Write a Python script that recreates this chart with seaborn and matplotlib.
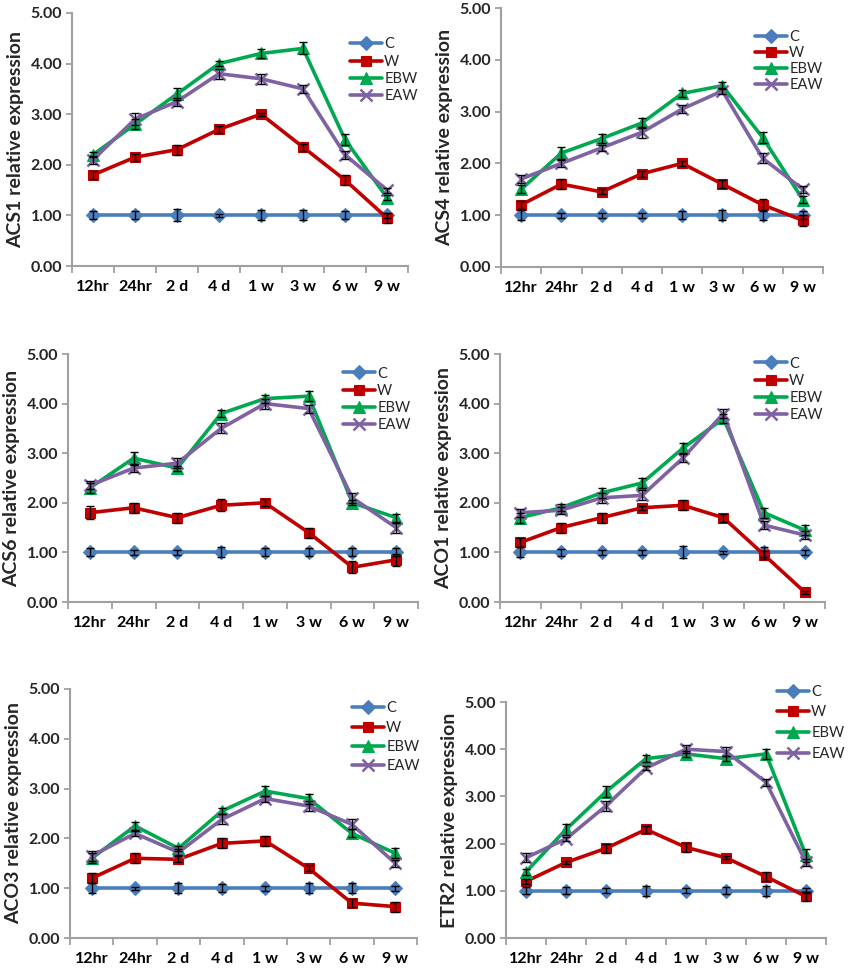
import matplotlib
matplotlib.use("Agg")
import matplotlib.pyplot as plt
import seaborn as sns
import numpy as np
import pandas as pd
from matplotlib.ticker import FormatStrFormatter, FixedLocator

sns.set_theme(style="white")
plt.rcParams['font.family'] = ['Lato', 'DejaVu Sans']

categories = ["12hr", "24hr", "2 d", "4 d", "1 w", "3 w", "6 w", "9 w"]
series_names = ["C", "W", "EBW", "EAW"]
genes = ["ACS1", "ACS4", "ACS6", "ACO1", "ACO3", "ETR2"]

# ---- values (mean) ----
ACS1_C = [1.0, 1.0, 1.0, 1.0, 1.0, 1.0, 1.0, 1.0]
ACS1_W = [1.8, 2.15, 2.3, 2.7, 3.0, 2.35, 1.7, 0.95]
ACS1_EBW = [2.2, 2.8, 3.4, 4.0, 4.2, 4.3, 2.5, 1.35]
ACS1_EAW = [2.1, 2.9, 3.25, 3.8, 3.7, 3.5, 2.2, 1.5]

ACS4_C = [1.0, 1.0, 1.0, 1.0, 1.0, 1.0, 1.0, 1.0]
ACS4_W = [1.2, 1.6, 1.45, 1.8, 2.0, 1.6, 1.2, 0.9]
ACS4_EBW = [1.5, 2.2, 2.48, 2.78, 3.35, 3.5, 2.5, 1.3]
ACS4_EAW = [1.7, 2.0, 2.3, 2.6, 3.05, 3.4, 2.1, 1.5]

ACS6_C = [1.0, 1.0, 1.0, 1.0, 1.0, 1.0, 1.0, 1.0]
ACS6_W = [1.8, 1.9, 1.7, 1.95, 2.0, 1.4, 0.7, 0.85]
ACS6_EBW = [2.3, 2.9, 2.7, 3.8, 4.1, 4.15, 2.0, 1.7]
ACS6_EAW = [2.35, 2.7, 2.8, 3.5, 4.0, 3.9, 2.1, 1.5]

ACO1_C = [1.0, 1.0, 1.0, 1.0, 1.0, 1.0, 1.0, 1.0]
ACO1_W = [1.2, 1.5, 1.7, 1.9, 1.95, 1.7, 0.95, 0.2]
ACO1_EBW = [1.7, 1.9, 2.2, 2.4, 3.1, 3.7, 1.8, 1.45]
ACO1_EAW = [1.8, 1.85, 2.1, 2.15, 2.9, 3.8, 1.55, 1.35]

ACO3_C = [1.0, 1.0, 1.0, 1.0, 1.0, 1.0, 1.0, 1.0]
ACO3_W = [1.2, 1.6, 1.58, 1.9, 1.95, 1.4, 0.7, 0.63]
ACO3_EBW = [1.6, 2.25, 1.8, 2.55, 2.95, 2.8, 2.1, 1.7]
ACO3_EAW = [1.65, 2.1, 1.72, 2.38, 2.8, 2.65, 2.28, 1.5]

ETR2_C = [1.0, 1.0, 1.0, 1.0, 1.0, 1.0, 1.0, 1.0]
ETR2_W = [1.2, 1.6, 1.9, 2.3, 1.92, 1.7, 1.3, 0.88]
ETR2_EBW = [1.4, 2.3, 3.1, 3.8, 3.9, 3.8, 3.9, 1.75]
ETR2_EAW = [1.7, 2.1, 2.8, 3.6, 4.0, 3.95, 3.3, 1.6]

# ---- error bars ----
ACS1_C_err = [0.08, 0.08, 0.12, 0.03, 0.1, 0.1, 0.08, 0.05]
ACS1_W_err = [0.08, 0.07, 0.1, 0.07, 0.03, 0.07, 0.1, 0.1]
ACS1_EBW_err = [0.05, 0.1, 0.12, 0.05, 0.08, 0.12, 0.1, 0.05]
ACS1_EAW_err = [0.08, 0.12, 0.08, 0.1, 0.1, 0.08, 0.08, 0.05]

ACS4_C_err = [0.1, 0.05, 0.05, 0.05, 0.08, 0.1, 0.1, 0.08]
ACS4_W_err = [0.08, 0.1, 0.05, 0.06, 0.05, 0.08, 0.12, 0.1]
ACS4_EBW_err = [0.08, 0.12, 0.08, 0.1, 0.07, 0.07, 0.1, 0.07]
ACS4_EAW_err = [0.08, 0.07, 0.06, 0.1, 0.07, 0.06, 0.1, 0.07]

ACS6_C_err = [0.08, 0.05, 0.05, 0.1, 0.08, 0.08, 0.08, 0.08]
ACS6_W_err = [0.13, 0.1, 0.1, 0.12, 0.07, 0.1, 0.12, 0.12]
ACS6_EBW_err = [0.1, 0.12, 0.05, 0.08, 0.08, 0.1, 0.05, 0.08]
ACS6_EAW_err = [0.08, 0.07, 0.1, 0.1, 0.1, 0.08, 0.1, 0.1]

ACO1_C_err = [0.1, 0.07, 0.05, 0.05, 0.12, 0.03, 0.1, 0.05]
ACO1_W_err = [0.1, 0.1, 0.1, 0.04, 0.1, 0.08, 0.08, 0.03]
ACO1_EBW_err = [0.1, 0.07, 0.1, 0.1, 0.1, 0.1, 0.1, 0.1]
ACO1_EAW_err = [0.08, 0.07, 0.1, 0.1, 0.08, 0.1, 0.08, 0.08]

ACO3_C_err = [0.1, 0.03, 0.1, 0.08, 0.05, 0.1, 0.1, 0.05]
ACO3_W_err = [0.1, 0.1, 0.06, 0.1, 0.1, 0.06, 0.08, 0.1]
ACO3_EBW_err = [0.1, 0.08, 0.05, 0.07, 0.1, 0.1, 0.08, 0.1]
ACO3_EAW_err = [0.1, 0.05, 0.06, 0.1, 0.06, 0.1, 0.1, 0.07]

ETR2_C_err = [0.07, 0.07, 0.05, 0.1, 0.05, 0.07, 0.1, 0.05]
ETR2_W_err = [0.05, 0.03, 0.1, 0.08, 0.1, 0.03, 0.1, 0.1]
ETR2_EBW_err = [0.07, 0.12, 0.12, 0.08, 0.06, 0.05, 0.1, 0.13]
ETR2_EAW_err = [0.1, 0.05, 0.1, 0.05, 0.08, 0.1, 0.07, 0.07]

values = {
    "ACS1": [ACS1_C, ACS1_W, ACS1_EBW, ACS1_EAW],
    "ACS4": [ACS4_C, ACS4_W, ACS4_EBW, ACS4_EAW],
    "ACS6": [ACS6_C, ACS6_W, ACS6_EBW, ACS6_EAW],
    "ACO1": [ACO1_C, ACO1_W, ACO1_EBW, ACO1_EAW],
    "ACO3": [ACO3_C, ACO3_W, ACO3_EBW, ACO3_EAW],
    "ETR2": [ETR2_C, ETR2_W, ETR2_EBW, ETR2_EAW],
}
errors = {
    "ACS1": [ACS1_C_err, ACS1_W_err, ACS1_EBW_err, ACS1_EAW_err],
    "ACS4": [ACS4_C_err, ACS4_W_err, ACS4_EBW_err, ACS4_EAW_err],
    "ACS6": [ACS6_C_err, ACS6_W_err, ACS6_EBW_err, ACS6_EAW_err],
    "ACO1": [ACO1_C_err, ACO1_W_err, ACO1_EBW_err, ACO1_EAW_err],
    "ACO3": [ACO3_C_err, ACO3_W_err, ACO3_EBW_err, ACO3_EAW_err],
    "ETR2": [ETR2_C_err, ETR2_W_err, ETR2_EBW_err, ETR2_EAW_err],
}

colors = {"C": "#4A7EBB", "W": "#C00000", "EBW": "#00A94F", "EAW": "#7E62A1"}
markers = {"C": "D", "W": "s", "EBW": "^", "EAW": "x"}
msizes = {"C": 7.5, "W": 7.0, "EBW": 8.5, "EAW": 8.0}

W, H = 850, 968
# pixel boxes: left, right, top, bottom
boxes = {
    "ACS1": (72, 408, 13, 266),
    "ACS4": (501, 823, 8, 267),
    "ACS6": (68, 418, 354, 602),
    "ACO1": (500, 825, 354, 602),
    "ACO3": (70, 417, 689, 938),
    "ETR2": (506, 826, 702, 938),
}
# legend: handle left x, first row centre y, row spacing
legpos = {
    "ACS1": (350, 44, 17),
    "ACS4": (755, 36, 16),
    "ACS6": (343, 373, 17),
    "ACO1": (755, 363, 17),
    "ACO3": (352, 709, 19),
    "ETR2": (777, 693, 20.5),
}

fig = plt.figure(figsize=(W / 100, H / 100), dpi=100)
fig.patch.set_facecolor("white")
spine_col = "#A0A0A0"
leg_fs = 10.5

for g in genes:
    l, r, t, b = boxes[g]
    ax = fig.add_axes([l / W, (H - b) / H, (r - l) / W, (b - t) / H])
    rows = []
    for s, vals in zip(series_names, values[g]):
        for c, v in zip(categories, vals):
            rows.append({"time": c, "value": v, "series": s})
    df = pd.DataFrame(rows)
    for s in series_names:
        sub = df[df["series"] == s]
        sns.lineplot(data=sub, x="time", y="value", ax=ax, color=colors[s],
                     marker=markers[s], markersize=msizes[s], linewidth=2.6,
                     markeredgecolor=colors[s], markeredgewidth=1.8 if s == "EAW" else 0.8,
                     label=s, clip_on=False, zorder=3, sort=False)
    for s, vals, errs in zip(series_names, values[g], errors[g]):
        ax.errorbar(np.arange(len(categories)), vals, yerr=errs, fmt="none",
                    ecolor="black", elinewidth=1.0, capsize=3, capthick=1.0,
                    zorder=4, clip_on=False)

    ax.set_xlim(-0.5, len(categories) - 0.5)
    ax.set_ylim(0, 5)
    ax.set_yticks([0, 1, 2, 3, 4, 5])
    ax.yaxis.set_major_formatter(FormatStrFormatter("%.2f"))
    ax.set_xticks(np.arange(len(categories)))
    ax.set_xticklabels(categories)
    ax.xaxis.set_minor_locator(FixedLocator(np.arange(-0.5, len(categories), 1.0)))
    ax.tick_params(axis="x", which="major", length=0, pad=10, labelsize=11.5,
                   colors="black")
    ax.tick_params(axis="x", which="minor", length=5, width=1.3, color=spine_col,
                   direction="out", bottom=True)
    ax.tick_params(axis="y", which="major", length=4, width=1.3, color=spine_col,
                   direction="out", left=True, pad=3, labelsize=11.5)
    for lab in ax.get_xticklabels() + ax.get_yticklabels():
        lab.set_fontweight("bold")
    for sp in ["top", "right"]:
        ax.spines[sp].set_visible(False)
    for sp in ["left", "bottom"]:
        ax.spines[sp].set_color(spine_col)
        ax.spines[sp].set_linewidth(1.5)
    ax.set_xlabel("")
    ax.set_ylabel(f"{g} relative expression", fontsize=14, fontweight="bold",
                  labelpad=5)
    ax.set_facecolor("white")
    ax.grid(False)

    hx, ry, sp_ = legpos[g]
    fs_px = leg_fs * 100 / 72
    lspace = max((sp_ - fs_px * 0.95) / fs_px, 0.0)
    leg = ax.legend(loc="upper left",
                    bbox_to_anchor=(hx / W, (H - (ry - sp_ / 2 + 2)) / H),
                    bbox_transform=fig.transFigure, frameon=False,
                    fontsize=leg_fs, handlelength=32 / fs_px, handletextpad=0.15,
                    borderpad=0, borderaxespad=0, labelspacing=lspace)

fig.savefig("out.png", dpi=100, facecolor="white")
